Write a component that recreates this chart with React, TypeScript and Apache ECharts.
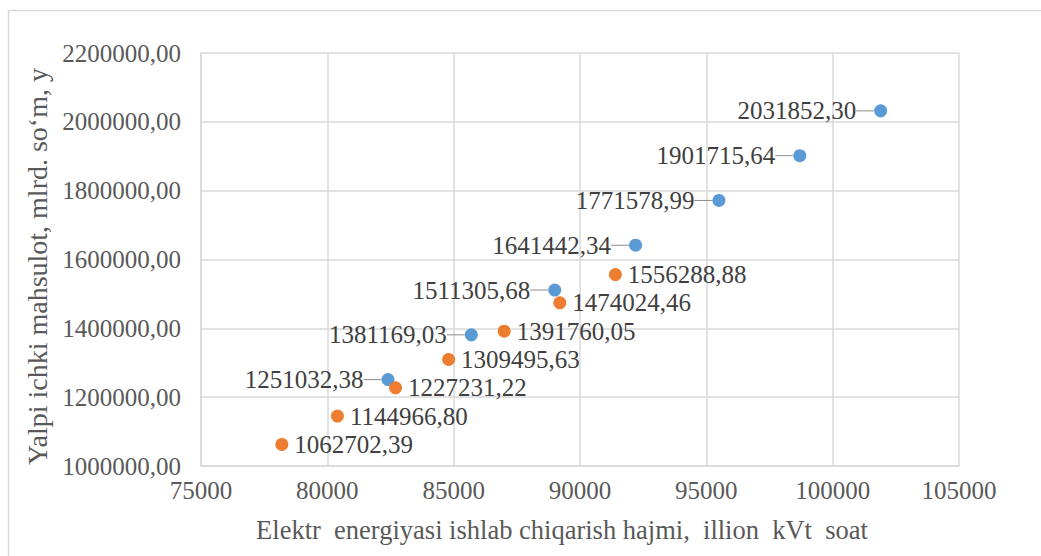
import React, { useEffect, useRef } from "react";
import * as echarts from "echarts";

const blueX = [82400, 85700, 89000, 92200, 95500, 98700, 101900];
const blueY = [1251032.38, 1381169.03, 1511305.68, 1641442.34, 1771578.99, 1901715.64, 2031852.3];
const orangeX = [78200, 80400, 82700, 84800, 87000, 89200, 91400];
const orangeY = [1062702.39, 1144966.8, 1227231.22, 1309495.63, 1391760.05, 1474024.46, 1556288.88];

const xTitle = "Elektr  energiyasi ishlab chiqarish hajmi,  illion  kVt  soat";
const yTitle = "Yalpi ichki mahsulot, mlrd. so\u02bbm, y";

const FONT = "Liberation Serif";

const fmt = (v: number) => v.toFixed(2).replace(".", ",");

export default function App() {
  const ref = useRef<HTMLDivElement>(null);
  useEffect(() => {
    if (!ref.current) return;
    const chart = echarts.init(ref.current, null, { renderer: "svg" });
    const blueData = blueX.map((x, i) => [x, blueY[i]]);
    const orangeData = orangeX.map((x, i) => [x, orangeY[i]]);
    chart.setOption({
      animation: false,
      backgroundColor: "#ffffff",
      textStyle: { fontFamily: FONT },
      graphic: [
        {
          type: "rect",
          shape: { x: 8.5, y: 10.5, width: 1040, height: 560 },
          style: { fill: "none", stroke: "#d9d9d9", lineWidth: 1.5 },
          silent: true,
          z: -10,
        },
      ],
      grid: { left: 201, right: 82, top: 53, bottom: 90 },
      xAxis: {
        type: "value",
        min: 75000,
        max: 105000,
        interval: 5000,
        name: xTitle,
        nameLocation: "middle",
        nameGap: 50,
        nameTextStyle: { fontFamily: FONT, fontSize: 26.5, color: "#595959", padding: [0, 36, 0, 0] },
        axisLine: { show: true, lineStyle: { color: "#d9d9d9", width: 1.5 } },
        axisTick: { show: false },
        splitLine: { show: true, lineStyle: { color: "#d9d9d9", width: 1.5 } },
        axisLabel: {
          fontFamily: FONT,
          fontSize: 25,
          color: "#595959",
          margin: 12,
          formatter: (v: number) => String(v),
        },
      },
      yAxis: {
        type: "value",
        min: 1000000,
        max: 2200000,
        interval: 200000,
        name: yTitle,
        nameLocation: "middle",
        nameGap: 150,
        nameTextStyle: { fontFamily: FONT, fontSize: 28, color: "#595959", padding: [0, 14, 0, 0] },
        axisLine: { show: true, lineStyle: { color: "#d9d9d9", width: 1.5 } },
        axisTick: { show: false },
        splitLine: { show: true, lineStyle: { color: "#d9d9d9", width: 1.5 } },
        axisLabel: {
          fontFamily: FONT,
          fontSize: 25,
          color: "#595959",
          margin: 20,
          formatter: (v: number) => fmt(v),
        },
      },
      series: [
        {
          type: "scatter",
          data: blueData,
          symbolSize: 13,
          itemStyle: { color: "#5b9bd5", opacity: 1 },
          label: {
            show: true,
            position: "left",
            distance: 8,
            fontFamily: FONT,
            fontSize: 25,
            color: "#404040",
            formatter: (p: any) => fmt(p.value[1]),
          },
          labelLayout: { dx: -10 },
          labelLine: { show: true, lineStyle: { color: "#8c8c8c", width: 1 } },
        },
        {
          type: "scatter",
          data: orangeData,
          symbolSize: 13,
          itemStyle: { color: "#ed7d31", opacity: 1 },
          label: {
            show: true,
            position: "right",
            distance: 6,
            fontFamily: FONT,
            fontSize: 25,
            color: "#404040",
            formatter: (p: any) => fmt(p.value[1]),
          },
        },
      ],
    });
    return () => chart.dispose();
  }, []);
  return (
    <div
      ref={ref}
      style={{ position: "fixed", left: 0, top: 0, width: 1041, height: 556, background: "#fff" }}
    />
  );
}
